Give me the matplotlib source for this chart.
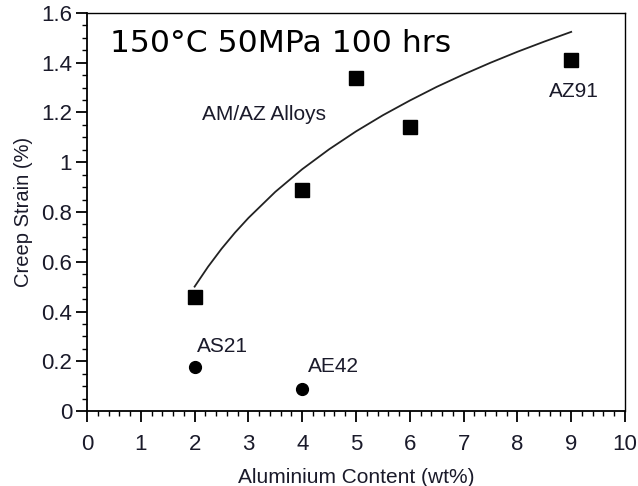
import numpy as np
import matplotlib.pyplot as plt
from matplotlib.ticker import MultipleLocator

# AM/AZ alloys (squares)
am_az_al = [2, 4, 5, 6, 9]
am_az_strain = [0.46, 0.89, 1.34, 1.14, 1.41]

# other alloys (circles)
other_names = ["AS21", "AE42"]
other_al = [2, 4]
other_strain = [0.175, 0.087]

# trend curve
trend_al = [2.0, 2.25, 2.5, 2.75, 3.0, 3.5, 4.0, 4.5, 5.0, 5.5, 6.0, 6.5, 7.0, 7.5, 8.0, 8.5, 9.0]
trend_strain = [0.50, 0.58, 0.652, 0.717, 0.776, 0.881, 0.972, 1.052, 1.124, 1.189,
                1.248, 1.303, 1.353, 1.40, 1.444, 1.485, 1.524]

plt.rcParams['font.family'] = ['Liberation Sans', 'DejaVu Sans']

fig = plt.figure(figsize=(6.38, 4.86), dpi=100)
ax = fig.add_axes([0.1364, 0.1543, 0.8432, 0.819])

ax.plot(trend_al, trend_strain, color='#222222', lw=1.3)
ax.plot(am_az_al, am_az_strain, 's', color='black', ms=10.5)
ax.plot(other_al, other_strain, 'o', color='black', ms=8.5)

lab_color = '#1a1a2a'
ax.text(2.04, 0.238, "AS21", fontsize=15, color=lab_color, ha='left', va='baseline')
ax.text(4.11, 0.158, "AE42", fontsize=15, color=lab_color, ha='left', va='baseline')
ax.text(8.59, 1.264, "AZ91", fontsize=15, color=lab_color, ha='left', va='baseline')
ax.text(2.13, 1.17, "AM/AZ Alloys", fontsize=15, color=lab_color, ha='left', va='baseline')
ax.text(0.43, 1.444, "150°C 50MPa 100 hrs", fontsize=22.6, family=['DejaVu Sans'],
        ha='left', va='baseline')

ax.set_xlim(0, 10)
ax.set_ylim(0, 1.6)
ax.xaxis.set_major_locator(MultipleLocator(1))
ax.xaxis.set_minor_locator(MultipleLocator(0.2))
ax.yaxis.set_major_locator(MultipleLocator(0.2))
ax.yaxis.set_minor_locator(MultipleLocator(0.05))
ax.xaxis.set_major_formatter(plt.FuncFormatter(lambda v, p: "%d" % round(v)))
ax.yaxis.set_major_formatter(plt.FuncFormatter(lambda v, p: "%g" % round(v, 2)))
ax.tick_params(which='major', direction='out', length=7.7, width=1.3, labelsize=16,
               labelcolor=lab_color)
ax.tick_params(axis='x', which='major', pad=9)
ax.tick_params(axis='y', which='major', pad=3)
ax.tick_params(which='minor', direction='out', length=3.6, width=1.0)
for s in ax.spines.values():
    s.set_linewidth(1.0)
ax.spines['left'].set_linewidth(1.3)
ax.spines['bottom'].set_linewidth(1.3)

ax.set_xlabel("Aluminium Content (wt%)", fontsize=15, color=lab_color, labelpad=9)
ax.set_ylabel("Creep Strain (%)", fontsize=14.5, color=lab_color, labelpad=6)

fig.savefig("out.png", dpi=100)
